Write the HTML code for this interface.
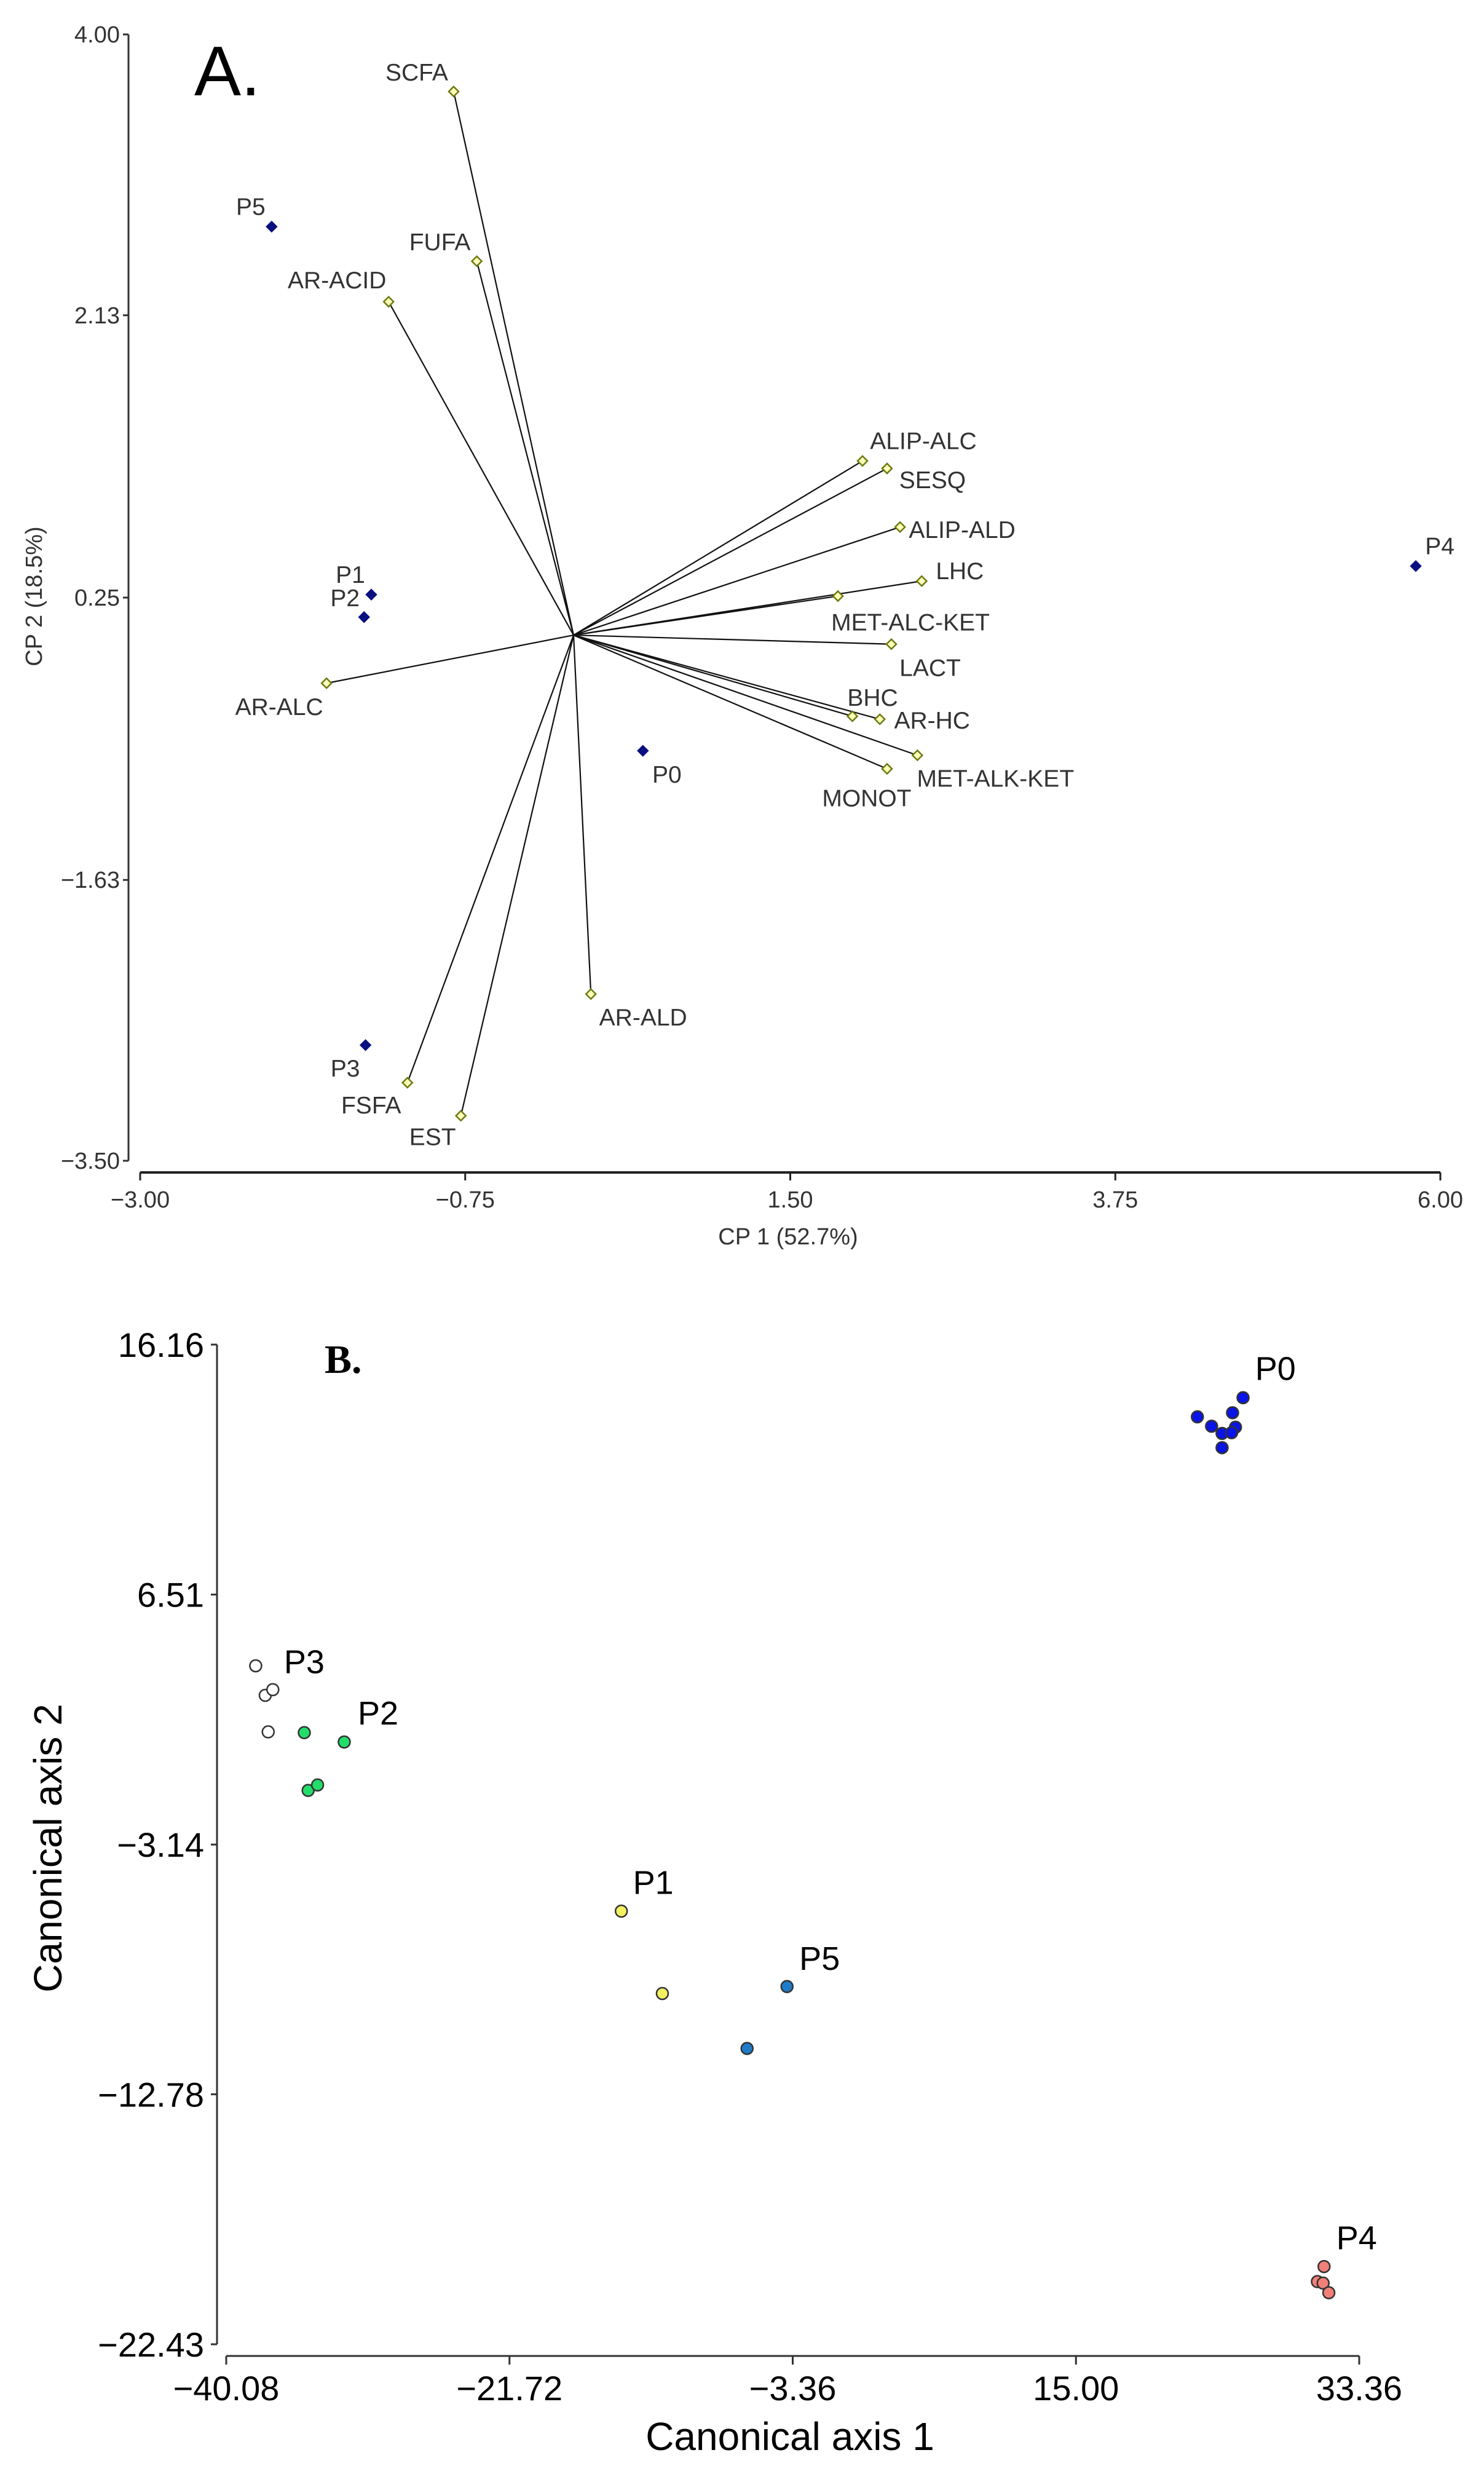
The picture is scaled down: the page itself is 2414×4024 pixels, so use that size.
<!DOCTYPE html>
<html><head><meta charset="utf-8">
<style>
html,body{margin:0;padding:0;background:#fff;}
svg{display:block;}
text{font-family:"Liberation Sans",Arial,sans-serif;}
</style></head>
<body>
<svg id="fig" width="2414" height="4024" viewBox="0 0 2414 4024" xmlns="http://www.w3.org/2000/svg">
  <rect width="2414" height="4024" fill="#fff"/>
  <g id="panelA"></g>
  <g id="panelB"></g>
</svg>
<script>
// ---------- Panel A data ----------
const varNames = ["SCFA","FUFA","AR-ACID","ALIP-ALC","SESQ","ALIP-ALD","LHC","MET-ALC-KET","LACT","BHC","AR-HC","MET-ALK-KET","MONOT","AR-ALC","AR-ALD","FSFA","EST"];
const varX = [-0.83,-0.67,-1.28,2.00,2.17,2.26,2.41,1.83,2.20,1.93,2.12,2.38,2.17,-1.71,0.12,-1.15,-0.78];
const varY = [3.62,2.49,2.22,1.16,1.11,0.72,0.36,0.26,-0.06,-0.54,-0.56,-0.80,-0.89,-0.32,-2.39,-2.98,-3.20];
const varLabelDX = [-60,-60,-84,99,74,101,62,118,63,33,85,127,-33,-77,85,-59,-46];
const varLabelDY = [-32,-32,-36,-33,18,4,-17,42,38,-31,1,37,47,38,37,36,34];
const sampleNames = ["P5","P1","P2","P0","P3","P4"];
const sampleX = [-2.09,-1.40,-1.45,0.48,-1.44,5.83];
const sampleY = [2.72,0.27,0.12,-0.77,-2.73,0.46];
const sampleLabelDX = [-34,-34,-31,39,-33,39];
const sampleLabelDY = [-33,-33,-32,38,37,-33];
const xTicksA = [-3.00,-0.75,1.50,3.75,6.00];
const xTickLabelsA = ["\u22123.00","\u22120.75","1.50","3.75","6.00"];
const yTicksA = [4.00,2.13,0.25,-1.63,-3.50];
const yTickLabelsA = ["4.00","2.13","0.25","\u22121.63","\u22123.50"];

// ---------- Panel B data ----------
const groupNames = ["P0","P3","P2","P1","P5","P4"];
const groupX = [
  [22.87,23.79,24.47,24.47,25.15,25.34,25.09,25.83],
  [-38.17,-37.55,-37.06,-37.36],
  [-35.02,-32.43,-34.77,-34.16],
  [-14.47,-11.81],
  [-3.73,-6.32],
  [31.08,30.65,31.02,31.39]
];
const groupY = [
  [13.37,13.01,12.73,12.18,13.53,12.97,12.76,14.11],
  [3.76,2.62,2.84,1.21],
  [1.18,0.82,-1.05,-0.84],
  [-5.71,-8.89],
  [-8.62,-11.01],
  [-19.43,-20.01,-20.07,-20.44]
];
const groupColors = ["#0a14e6","#ffffff","#22dd6a","#f4f060","#1e7cc8","#f08078"];
const groupLabelDX = [127,79,120,52,53,53];
const groupLabelDY = [-79,-7,-32,-47,-46,-47];
const xTicksB = [-40.08,-21.72,-3.36,15.00,33.36];
const xTickLabelsB = ["\u221240.08","\u221221.72","\u22123.36","15.00","33.36"];
const yTicksB = [16.16,6.51,-3.14,-12.78,-22.43];
const yTickLabelsB = ["16.16","6.51","\u22123.14","\u221212.78","\u221222.43"];

const NS = "http://www.w3.org/2000/svg";
function mk(parent, tag, attrs, txt){
  const e = document.createElementNS(NS, tag);
  for (const k in attrs) e.setAttribute(k, attrs[k]);
  if (txt !== undefined) e.textContent = txt;
  parent.appendChild(e);
  return e;
}
function diamond(cx, cy, r){
  return `M${cx},${cy-r} L${cx+r},${cy} L${cx},${cy+r} L${cx-r},${cy} Z`;
}

// ---------- Panel A ----------
(function(){
  const g = document.getElementById('panelA');
  const xA = v => 228 + (v + 3) * 235;
  const yA = v => 56 + (4 - v) * 244.27;
  const ox = xA(0), oy = yA(0);

  let e = mk(g,'line',{x1:209,y1:yA(4),x2:209,y2:yA(-3.5),stroke:'#333','stroke-width':3});
   
  e = mk(g,'line',{x1:xA(-3),y1:1907,x2:xA(6),y2:1907,stroke:'#222','stroke-width':4});
   
  xTicksA.forEach((v,i)=>{
    const t = mk(g,'line',{x1:xA(v),y1:1907,x2:xA(v),y2:1920,stroke:'#222','stroke-width':3});
     
    const l = mk(g,'text',{x:xA(v),y:1964,'font-size':38,'text-anchor':'middle',fill:'#333'},xTickLabelsA[i]);
     
  });
  yTicksA.forEach((v,i)=>{
    const t = mk(g,'line',{x1:200,y1:yA(v),x2:209,y2:yA(v),stroke:'#333','stroke-width':3});
     
    const l = mk(g,'text',{x:195,y:yA(v)+13,'font-size':38,'text-anchor':'end',fill:'#333'},yTickLabelsA[i]);
     
  });
  e = mk(g,'text',{x:1282,y:2024,'font-size':38,'text-anchor':'middle',fill:'#333'},'CP 1 (52.7%)');
   
  e = mk(g,'text',{x:0,y:0,'font-size':38,'text-anchor':'middle',fill:'#333',transform:'translate(68,970) rotate(-90)'},'CP 2 (18.5%)');
   
  e = mk(g,'text',{x:316,y:155,'font-size':114,fill:'#000'},'A.');
   

  varNames.forEach((n,i)=>{
    const x = xA(varX[i]), y = yA(varY[i]);
    const ln = mk(g,'line',{x1:ox,y1:oy,x2:x,y2:y,stroke:'#111','stroke-width':2.2});
    
    
  });
  varNames.forEach((n,i)=>{
    const x = xA(varX[i]), y = yA(varY[i]);
    const m = mk(g,'path',{d:diamond(x,y,8),fill:'#ffffb8',stroke:'#6b7a10','stroke-width':2.5});
    
    
    const t = mk(g,'text',{x:x+varLabelDX[i],y:y+varLabelDY[i]+14,'font-size':39,'text-anchor':'middle',fill:'#333'},n);
    
    
  });
  sampleNames.forEach((n,i)=>{
    const x = xA(sampleX[i]), y = yA(sampleY[i]);
    const m = mk(g,'path',{d:diamond(x,y,9),fill:'#0a1080',stroke:'#0a1080','stroke-width':1});
    
    
    const t = mk(g,'text',{x:x+sampleLabelDX[i],y:y+sampleLabelDY[i]+14,'font-size':39,'text-anchor':'middle',fill:'#333'},n);
    
    
  });
})();

// ---------- Panel B ----------
(function(){
  const g = document.getElementById('panelB');
  const xB = v => 368 + (v + 40.08) / 73.44 * 1843;
  const yB = v => 2187 + (16.16 - v) / 38.59 * 1626;

  let e = mk(g,'line',{x1:353,y1:yB(16.16),x2:353,y2:yB(-22.43),stroke:'#333','stroke-width':3});
   
  e = mk(g,'line',{x1:xB(-40.08),y1:3832,x2:xB(33.36),y2:3832,stroke:'#333','stroke-width':3});
   
  xTicksB.forEach((v,i)=>{
    const t = mk(g,'line',{x1:xB(v),y1:3832,x2:xB(v),y2:3846,stroke:'#333','stroke-width':3});
     
    const l = mk(g,'text',{x:xB(v),y:3904,'font-size':56,'text-anchor':'middle',fill:'#000'},xTickLabelsB[i]);
     
  });
  yTicksB.forEach((v,i)=>{
    const t = mk(g,'line',{x1:343,y1:yB(v),x2:353,y2:yB(v),stroke:'#333','stroke-width':3});
     
    const l = mk(g,'text',{x:332,y:yB(v)+20,'font-size':56,'text-anchor':'end',fill:'#000'},yTickLabelsB[i]);
     
  });
  e = mk(g,'text',{x:1285,y:3985,'font-size':64,'text-anchor':'middle',fill:'#000'},'Canonical axis 1');
   
  e = mk(g,'text',{x:0,y:0,'font-size':64,'text-anchor':'middle',fill:'#000',transform:'translate(100,3006) rotate(-90)'},'Canonical axis 2');
   
  e = mk(g,'text',{x:528,y:2233,'font-size':66,'font-weight':'bold',fill:'#000',style:'font-family:"Liberation Serif",serif'},'B.');
   

  groupNames.forEach((n,gi)=>{
    groupX[gi].forEach((xv,j)=>{
      const x = xB(xv), y = yB(groupY[gi][j]);
      const m = mk(g,'circle',{cx:x,cy:y,r:9.5,fill:groupColors[gi],stroke:'#333','stroke-width':2.5});
      
      
    });
    const x0 = xB(groupX[gi][0]), y0 = yB(groupY[gi][0]);
    const t = mk(g,'text',{x:x0+groupLabelDX[gi],y:y0+groupLabelDY[gi]+19,'font-size':54,'text-anchor':'middle',fill:'#000'},n);
    
    
  });
})();
</script>
</body></html>
